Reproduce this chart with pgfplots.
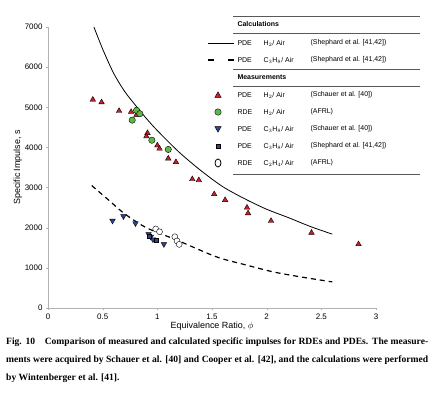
\documentclass[border=0pt]{standalone}
\usepackage{pgfplots}
\pgfplotsset{compat=1.18}
\usetikzlibrary{shapes.geometric}
\usepackage{fontspec}
\setmainfont{Liberation Sans}
\newfontfamily\capfont{Liberation Serif}
\definecolor{tred}{HTML}{C8202A}
\definecolor{tgreen}{HTML}{5DB848}
\definecolor{tblue}{HTML}{2E4496}
\begin{document}
\begin{tikzpicture}[x=1bp,y=1bp]
\useasboundingbox (-48,-104) rectangle (388,308);
\begin{axis}[at={(0,0)},anchor=south west,scale only axis,width=328bp,height=281bp,
  xmin=0,xmax=3,ymin=0,ymax=7000,axis lines=left,axis line style={gray!60,-},
  tick style={gray!60},tick align=outside,major tick length=2pt,
  xtick={0,0.5,...,3},ytick={0,1000,...,7000},
  ticklabel style={font=\fontsize{8}{9}\selectfont},
  /pgf/number format/assume math mode=true,
  scaled y ticks=false,yticklabel style={/pgf/number format/1000 sep={}},
  xlabel={Equivalence Ratio, $\phi$},ylabel={Specific Impulse, s},
  label style={font=\fontsize{9}{10}\selectfont},
  xlabel style={yshift=4pt},ylabel style={yshift=-4pt},
  clip=false]
\addplot[black,thick,smooth] coordinates {(0.42,7000)(0.5,6450)(0.6,5850)(0.7,5400)(0.8,5050)(0.9,4720)(1.0,4420)(1.2,3880)(1.4,3420)(1.6,3020)(1.8,2720)(2.0,2460)(2.2,2250)(2.4,2030)(2.6,1840)};
\addplot[black,very thick,dashed,dash pattern=on 5pt off 4pt,smooth] coordinates {(0.4,3050)(0.55,2700)(0.7,2350)(0.9,2000)(1.18,1690)(1.54,1275)(1.8,1080)(2.06,900)(2.3,780)(2.6,650)};
\addplot[only marks,mark=triangle*,mark size=3.2pt,mark options={fill=tred,draw=black,thin}] coordinates {(0.41,5190)(0.49,5125)(0.65,4910)(0.76,4885)(0.81,4815)(0.91,4360)(0.90,4275)(1.0,4050)(1.02,3970)(1.10,3725)(1.17,3635)(1.32,3210)(1.38,3185)(1.52,2835)(1.62,2690)(1.82,2500)(1.83,2360)(2.04,2170)(2.41,1875)(2.84,1590)};
\addplot[only marks,mark=*,mark size=3.2pt,mark options={fill=tgreen,draw=black,thin}] coordinates {(0.77,4680)(0.81,4925)(0.84,4840)(0.95,4180)(1.10,3950)};
\addplot[only marks,mark=triangle*,mark size=3.2pt,mark options={rotate=180,fill=tblue,draw=black,thin}] coordinates {(0.59,2175)(0.69,2285)(0.80,2110)(0.92,1840)(0.94,1775)(0.96,1710)(1.06,1590)};
\addplot[only marks,mark=square*,mark size=2pt,mark options={fill=tblue,draw=black,thin}] coordinates {(0.93,1800)(0.99,1680)};
\addplot[only marks,mark=*,mark size=3pt,mark options={fill=white,draw=black,thin}] coordinates {(0.985,1970)(1.02,1900)(1.16,1775)(1.18,1670)(1.20,1585)};
\end{axis}
% legend box
\begin{scope}[shift={(-48,308)},y=-1bp,font=\fontsize{7}{8}\selectfont]
\draw[gray!70!black,thin] (233,15.7)--(420,15.7) (233,33)--(420,33) (233,69)--(420,69) (233,86)--(420,86) (233,174)--(420,174);
\node[anchor=west,font=\fontsize{7}{8}\selectfont\bfseries] at (234,24.5) {Calculations};
\node[anchor=west,font=\fontsize{7}{8}\selectfont\bfseries] at (234,77.5) {Measurements};
\draw[black,thick] (208,43)--(234,43);
\draw[black,very thick] (208,60)--(214,60) (228,60)--(234,60);
\node[anchor=west] at (234,43) {PDE};\node[anchor=west] at (260,43) {H$_2$/ Air};\node[anchor=west] at (307,43) {(Shephard et al. [41,42])};
\node[anchor=west] at (234,60) {PDE};\node[anchor=west] at (260,60) {C$_3$H$_8$/ Air};\node[anchor=west] at (307,60) {(Shephard et al. [41,42])};
\node[anchor=west] at (234,95) {PDE};\node[anchor=west] at (260,95) {H$_2$/ Air};\node[anchor=west] at (307,95) {(Schauer et al. [40])};
\node[anchor=west] at (234,112) {RDE};\node[anchor=west] at (260,112) {H$_2$/ Air};\node[anchor=west] at (307,112) {(AFRL)};
\node[anchor=west] at (234,129) {PDE};\node[anchor=west] at (260,129) {C$_3$H$_8$/ Air};\node[anchor=west] at (307,129) {(Schauer et al. [40])};
\node[anchor=west] at (234,146) {PDE};\node[anchor=west] at (260,146) {C$_3$H$_8$/ Air};\node[anchor=west] at (307,146) {(Shephard et al. [41,42])};
\node[anchor=west] at (234,163) {RDE};\node[anchor=west] at (260,163) {C$_2$H$_4$/ Air};\node[anchor=west] at (307,163) {(AFRL)};
\node[regular polygon,regular polygon sides=3,draw=black,thin,fill=tred,inner sep=1.3pt] at (218,95.5) {};
\node[circle,draw=black,thin,fill=tgreen,minimum size=6.5pt,inner sep=0pt] at (218,112) {};
\node[regular polygon,regular polygon sides=3,shape border rotate=180,draw=black,thin,fill=tblue,inner sep=1.3pt] at (218,128.5) {};
\node[rectangle,draw=black,thin,fill=tblue,minimum size=4.5pt,inner sep=0pt] at (218,146) {};
\node[ellipse,draw=black,thick,fill=white,minimum width=6pt,minimum height=8pt,inner sep=0pt] at (218,163) {};
\end{scope}
\node[anchor=north west,text width=422bp,align=justify,inner sep=0pt,font=\capfont\bfseries\fontsize{9.6}{18}\selectfont] at (-42,-30) {Fig. 10\quad Comparison of measured and calculated specific impulses for RDEs and PDEs. The measurements were acquired by Schauer et al. [40] and Cooper et al. [42], and the calculations were performed by Wintenberger et al. [41].};
\end{tikzpicture}
\end{document}
